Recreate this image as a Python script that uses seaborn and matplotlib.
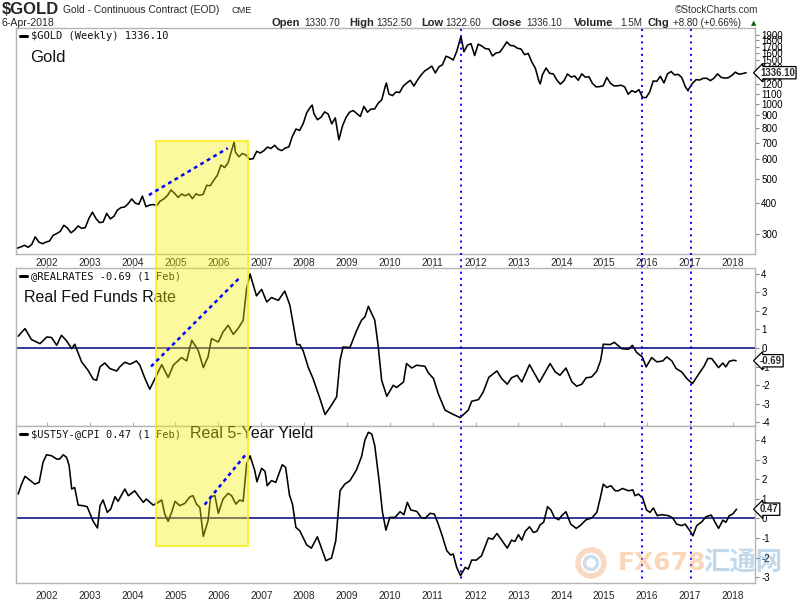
import numpy as np
import pandas as pd
import matplotlib
matplotlib.use("Agg")
import matplotlib.pyplot as plt
import matplotlib.transforms as mtransforms
from matplotlib.lines import Line2D
from matplotlib.patches import Rectangle, Circle
from matplotlib.ticker import NullLocator
import seaborn as sns

# ---------------- data ----------------
gold_start_year, gold_start_month = 2001, 4
gold_monthly = [
    264, 267, 271, 266, 273, 293, 279, 275, 279,                      # 2001 Apr-Dec
    282, 297, 302, 308, 326, 318, 304, 312, 324, 317, 319, 347,       # 2002
    368, 347, 334, 336, 364, 346, 354, 375, 384, 386, 398, 416,       # 2003
    400, 396, 427, 387, 393, 395, 391, 408, 416, 429, 452, 438,       # 2004
    422, 435, 428, 436, 417, 436, 430, 434, 472, 470, 495, 518,       # 2005
    569, 556, 582, 654, 643, 614, 633, 624, 600, 604, 646, 636,       # 2006
    650, 672, 663, 683, 659, 650, 666, 673, 743, 794, 783, 834,       # 2007
    923, 972, 916, 865, 885, 930, 912, 833, 880, 718, 816, 884,       # 2008
    928, 942, 916, 891, 979, 927, 955, 955, 1008, 1040, 1180, 1097,   # 2009
    1081, 1118, 1113, 1180, 1215, 1245, 1181, 1248, 1307, 1357, 1386, 1421,  # 2010
    1333, 1411, 1439, 1556, 1536, 1502, 1628, 1829, 1620, 1725, 1746, 1566,  # 2011
    1740, 1711, 1669, 1664, 1560, 1604, 1614, 1687, 1776, 1719, 1713, 1675,  # 2012
    1663, 1578, 1597, 1476, 1393, 1234, 1313, 1395, 1328, 1323, 1250, 1202,  # 2013
    1240, 1321, 1284, 1296, 1246, 1322, 1282, 1287, 1210, 1172, 1175, 1184,  # 2014
    1279, 1213, 1183, 1184, 1190, 1172, 1095, 1132, 1115, 1142, 1064, 1061,  # 2015
    1118, 1238, 1234, 1293, 1215, 1322, 1351, 1309, 1316, 1277, 1173, 1152,  # 2016
    1211, 1253, 1249, 1269, 1269, 1242, 1270, 1322, 1280, 1271, 1275, 1303,  # 2017
    1343, 1318, 1325, 1336,                                            # 2018 Jan-Apr
]
gold_extreme_t = [2006.37, 2008.19, 2009.92, 2011.66, 2013.51, 2016.96]
gold_extreme_v = [705, 990, 1215, 1870, 1205, 1130]

realrate_t = [2001.33, 2001.49, 2001.64, 2001.84, 2002.00, 2002.11, 2002.23, 2002.34, 2002.46, 2002.58,
              2002.65, 2002.81, 2002.96, 2003.08, 2003.16, 2003.24, 2003.35, 2003.47, 2003.63, 2003.70,
              2003.82, 2003.94, 2004.09, 2004.17, 2004.29, 2004.40, 2004.52, 2004.68, 2004.83, 2004.95,
              2005.14, 2005.26, 2005.38, 2005.53, 2005.65, 2005.76, 2005.84, 2006.00, 2006.11, 2006.23,
              2006.35, 2006.46, 2006.58, 2006.66, 2006.74, 2006.89, 2007.01, 2007.13, 2007.24, 2007.40,
              2007.55, 2007.67, 2007.83, 2007.90, 2007.98, 2008.10, 2008.21, 2008.37, 2008.49, 2008.64,
              2008.76, 2008.84, 2008.91, 2009.07, 2009.22, 2009.34, 2009.42, 2009.50, 2009.65, 2009.73,
              2009.81, 2009.93, 2010.08, 2010.16, 2010.32, 2010.39, 2010.51, 2010.63, 2010.82, 2010.90,
              2011.02, 2011.13, 2011.29, 2011.44, 2011.64, 2011.83, 2011.91, 2012.07, 2012.18, 2012.31,
              2012.50, 2012.61, 2012.74, 2012.84, 2012.97, 2013.08, 2013.26, 2013.49, 2013.74, 2013.86,
              2013.97, 2014.11, 2014.25, 2014.36, 2014.48, 2014.58, 2014.71, 2014.83, 2014.92, 2014.98,
              2015.14, 2015.24, 2015.41, 2015.57, 2015.66, 2015.76, 2015.89, 2015.98, 2016.11, 2016.23,
              2016.37, 2016.46, 2016.58, 2016.68, 2016.81, 2016.93, 2017.06, 2017.24, 2017.33, 2017.42,
              2017.51, 2017.67, 2017.77, 2017.84, 2017.92, 2018.02, 2018.08]
realrate_v = [0.63, 1.04, 0.45, 0.23, 0.59, 0.56, 0.14, 0.68, 0.38, -0.04,
              0.20, -0.75, -1.20, -1.68, -1.74, -1.02, -0.81, -1.11, -1.24, -1.02,
              -0.77, -0.88, -0.70, -0.93, -1.65, -2.22, -1.65, -0.90, -1.59, -0.93,
              -0.52, -0.70, 0.41, -0.13, -1.06, -0.48, 0.50, 0.32, 0.86, 1.22,
              0.73, 1.04, 1.49, 3.19, 3.98, 2.80, 3.15, 2.47, 2.71, 2.56,
              3.06, 2.29, 0.18, 0.18, -0.16, -1.06, -1.65, -2.72, -3.58, -3.08,
              -2.63, -0.66, 0.05, 0.02, 0.90, 1.49, 1.67, 2.24, 1.49, 0.09,
              -1.74, -2.60, -2.01, -2.13, -1.83, -0.84, -1.08, -0.93, -0.99, -1.34,
              -1.65, -2.46, -3.35, -3.53, -3.75, -3.35, -2.87, -2.78, -2.37, -1.58,
              -1.24, -1.65, -1.95, -1.61, -1.47, -1.83, -0.90, -1.85, -0.84, -1.29,
              -1.47, -1.08, -1.83, -2.06, -1.95, -1.61, -1.56, -1.24, -0.66, 0.20,
              0.18, 0.30, -0.04, -0.07, 0.14, -0.25, -0.48, -1.02, -0.52, -0.75,
              -0.70, -0.48, -0.70, -1.11, -1.29, -1.65, -1.92, -1.29, -0.99, -0.57,
              -0.57, -1.06, -0.81, -1.02, -0.72, -0.66, -0.69]

real5y_t = [2001.33, 2001.41, 2001.49, 2001.60, 2001.72, 2001.82, 2001.91, 2001.99, 2002.11, 2002.23,
            2002.30, 2002.38, 2002.46, 2002.52, 2002.58, 2002.65, 2002.73, 2002.84, 2002.94, 2003.08,
            2003.18, 2003.24, 2003.31, 2003.41, 2003.49, 2003.59, 2003.66, 2003.82, 2003.90, 2004.05,
            2004.13, 2004.25, 2004.32, 2004.48, 2004.56, 2004.68, 2004.75, 2004.83, 2004.91, 2004.99,
            2005.10, 2005.22, 2005.34, 2005.41, 2005.49, 2005.57, 2005.65, 2005.76, 2005.82, 2005.92,
            2006.00, 2006.11, 2006.23, 2006.31, 2006.41, 2006.50, 2006.58, 2006.66, 2006.74, 2006.85,
            2006.90, 2007.01, 2007.09, 2007.14, 2007.24, 2007.34, 2007.49, 2007.57, 2007.66, 2007.73,
            2007.81, 2007.90, 2008.06, 2008.17, 2008.31, 2008.40, 2008.51, 2008.64, 2008.74, 2008.84,
            2008.95, 2009.07, 2009.22, 2009.34, 2009.42, 2009.50, 2009.58, 2009.65, 2009.75, 2009.83,
            2009.91, 2010.00, 2010.12, 2010.24, 2010.33, 2010.41, 2010.49, 2010.63, 2010.73, 2010.82,
            2010.94, 2011.04, 2011.13, 2011.21, 2011.33, 2011.42, 2011.48, 2011.56, 2011.65, 2011.76,
            2011.83, 2011.91, 2012.02, 2012.14, 2012.30, 2012.40, 2012.50, 2012.62, 2012.74, 2012.84,
            2012.92, 2013.00, 2013.08, 2013.16, 2013.26, 2013.35, 2013.43, 2013.51, 2013.59, 2013.68,
            2013.76, 2013.84, 2013.94, 2014.01, 2014.11, 2014.22, 2014.35, 2014.44, 2014.58, 2014.71,
            2014.83, 2014.91, 2014.98, 2015.06, 2015.16, 2015.26, 2015.33, 2015.43, 2015.57, 2015.67,
            2015.72, 2015.80, 2015.90, 2015.99, 2016.07, 2016.15, 2016.24, 2016.34, 2016.50, 2016.60,
            2016.69, 2016.81, 2016.89, 2017.01, 2017.07, 2017.16, 2017.28, 2017.38, 2017.50, 2017.59,
            2017.67, 2017.77, 2017.84, 2017.92, 2018.00, 2018.09]
real5y_v = [1.24, 1.75, 2.15, 1.96, 1.75, 1.84, 2.86, 3.25, 3.20, 3.03,
            3.03, 3.25, 3.12, 2.69, 1.50, 1.58, 0.68, 0.65, 0.60, -0.15,
            -0.49, 0.65, 0.94, 0.31, 0.48, 1.11, 0.87, 1.50, 1.16, 1.41,
            1.16, 0.82, 0.99, 0.68, 0.77, 0.94, 0.22, -0.15, 0.31, 0.87,
            0.65, 0.77, 1.11, 1.16, 0.73, 0.56, -0.92, -0.12, 1.11, 1.16,
            0.26, 0.99, 1.28, 1.16, 0.73, 0.94, 0.87, 2.78, 3.20, 2.44,
            1.87, 2.56, 2.40, 1.67, 1.93, 1.84, 2.74, 2.61, 1.19, 0.73,
            -0.46, -0.63, -1.35, -1.52, -0.94, -1.48, -2.16, -2.03, -1.14, 1.41,
            1.75, 1.93, 2.47, 3.15, 4.00, 4.40, 4.31, 3.71, 1.93, 0.31,
            -0.60, 0.05, 0.05, 0.34, 0.19, 0.82, 0.43, 0.36, 0.05, 0.00,
            0.26, 0.22, -0.29, -0.80, -1.65, -1.87, -1.82, -2.50, -2.93, -2.50,
            -2.59, -2.13, -2.13, -1.91, -1.00, -1.06, -0.77, -1.14, -1.52, -1.11,
            -1.18, -0.83, -1.11, -0.66, -0.43, -0.72, -0.66, -0.32, -0.20, 0.60,
            0.43, 0.05, -0.07, 0.14, 0.34, -0.29, -0.51, -0.37, -0.07, 0.02,
            0.31, 1.04, 1.75, 1.58, 1.67, 1.41, 1.41, 1.53, 1.41, 1.46,
            1.16, 1.24, 1.04, 0.43, 0.31, 0.53, 0.14, 0.19, 0.14, 0.02,
            -0.29, -0.37, -0.29, -0.66, -0.89, -0.37, -0.17, 0.09, 0.17, -0.20,
            -0.51, -0.09, -0.20, 0.14, 0.22, 0.47]

# annotations (dates as fractional years, values in panel units)
gold_trend_t, gold_trend_v = [2004.38, 2006.22], [431, 665]
rr_trend_t, rr_trend_v = [2004.43, 2006.50], [-1.0, 3.78]
r5_trend_t, r5_trend_v = [2005.68, 2006.66], [0.70, 3.32]
highlight_span = (2004.54, 2006.69)
event_dates = [2011.66, 2015.89, 2017.03]
year_ticks = list(range(2002, 2019))
gold_ticks = list(range(300, 2000, 100))
rr_ticks = [-4, -3, -2, -1, 0, 1, 2, 3, 4]
r5_ticks = [-3, -2, -1, 0, 1, 2, 3, 4]
last_gold, last_rr, last_r5 = 1336.10, -0.69, 0.47

# ---------------- build frames ----------------
n = len(gold_monthly)
month_idx = gold_start_month - 1 + np.arange(n)
gold_t = gold_start_year + (month_idx + 0.75) / 12.0
gold_df = pd.DataFrame({"t": np.concatenate([gold_t, gold_extreme_t]),
                        "v": np.concatenate([gold_monthly, gold_extreme_v])}).sort_values("t")
rr_df = pd.DataFrame({"t": realrate_t, "v": realrate_v})
r5_df = pd.DataFrame({"t": real5y_t, "v": real5y_v})

# ---------------- style ----------------
sns.set_style("white")
plt.rcParams["font.family"] = ["Liberation Sans", "DejaVu Sans", "Noto Sans CJK SC"]
W, H = 800, 600
fig = plt.figure(figsize=(8, 6), dpi=100)
fig.patch.set_facecolor("white")

def fx(x):
    return x / W

def fy(y):
    return 1 - y / H

L, R = 16, 755
ax1 = fig.add_axes([fx(L), fy(254), (R - L) / W, (254 - 28) / H])
ax2 = fig.add_axes([fx(L), fy(426), (R - L) / W, (426 - 268) / H])
ax3 = fig.add_axes([fx(L), fy(583), (R - L) / W, (583 - 426) / H])

xlim = (2001.28, 2018.52)
spine_c = "#b4b4b4"

sns.lineplot(data=gold_df, x="t", y="v", ax=ax1, color="black", lw=1.15, estimator=None, sort=False)
sns.lineplot(data=rr_df, x="t", y="v", ax=ax2, color="black", lw=1.15, estimator=None, sort=False)
sns.lineplot(data=r5_df, x="t", y="v", ax=ax3, color="black", lw=1.15, estimator=None, sort=False)

ax1.set_yscale("log")
ax1.set_ylim(250, 2020)
ax2.set_ylim(-4.2, 4.3)
ax3.set_ylim(-3.3, 4.72)

for ax in (ax2, ax3):
    ax.axhline(0, color="#000080", lw=1.1, zorder=1)

for ax in (ax1, ax2, ax3):
    ax.set_xlim(*xlim)
    ax.set_xlabel("")
    ax.set_ylabel("")
    for s in ax.spines.values():
        s.set_color(spine_c)
        s.set_linewidth(1.0)
    ax.yaxis.tick_right()
    ax.tick_params(axis="y", which="major", direction="out", length=3, width=0.8,
                   color="#888888", labelsize=7, pad=1.5, labelcolor="black")
    ax.set_xticks(year_ticks)

ax1.set_yticks(gold_ticks)
ax1.set_yticklabels([str(v) for v in gold_ticks])
ax1.yaxis.set_minor_locator(NullLocator())
ax2.set_yticks(rr_ticks)
ax2.set_yticklabels([str(v) for v in rr_ticks])
ax3.set_yticks(r5_ticks)
ax3.set_yticklabels([str(v) for v in r5_ticks])

ax1.set_xticklabels([str(y) for y in year_ticks])
ax1.tick_params(axis="x", length=0, labelsize=7.3, pad=3)
ax2.tick_params(axis="x", bottom=False, top=True, labelbottom=False, length=3,
                color=spine_c, direction="out")
ax3.set_xticklabels([str(y) for y in year_ticks])
ax3.tick_params(axis="x", bottom=False, top=True, labelbottom=True, length=3,
                color=spine_c, direction="out", labelsize=7.3, pad=3)

# last-value boxes
narrow = ["Liberation Sans Narrow", "Liberation Sans", "DejaVu Sans"]
reg = ["Liberation Sans", "DejaVu Sans"]
box_kw = dict(boxstyle="larrow,pad=0.12", fc="white", ec="black", lw=0.9)
for ax, val, txt in ((ax1, last_gold, "1336.10"), (ax2, last_rr, "-0.69"), (ax3, last_r5, "0.47")):
    ax.text(1.0068, val, txt, transform=ax.get_yaxis_transform(), ha="left", va="center",
            fontsize=6.9, fontweight="bold", family=reg, bbox=box_kw, clip_on=False, zorder=10)

# panel legends and titles (axes children so the highlight overlays them)
mono = "DejaVu Sans Mono"
legend_items = [(ax1, 36, "$GOLD (Weekly) 1336.10"),
                (ax2, 276, "@REALRATES -0.69 (1 Feb)"),
                (ax3, 434, "$UST5Y-@CPI 0.47 (1 Feb)")]
for ax, ypx, txt in legend_items:
    ax.add_line(Line2D([fx(20), fx(27)], [fy(ypx), fy(ypx)], transform=fig.transFigure,
                       color="black", lw=2.2, clip_on=False))
    ax.text(fx(31), fy(ypx), txt, transform=fig.transFigure, family=mono, fontsize=7.5,
            va="center", ha="left", color="#111111", clip_on=False)

ax1.text(fx(30), fy(57), "Gold", transform=fig.transFigure, fontsize=12, va="center", color="#111111")
ax2.text(fx(24), fy(297), "Real Fed Funds Rate", transform=fig.transFigure, fontsize=11.5,
         va="center", color="#111111")
ax3.text(fx(190), fy(434), "Real 5-Year Yield", transform=fig.transFigure, fontsize=11.5,
         va="center", color="#111111", clip_on=False)

# yellow highlight spanning panels
blend = mtransforms.blended_transform_factory(ax1.transData, fig.transFigure)
x0, x1 = highlight_span
rect = Rectangle((x0, fy(546)), x1 - x0, fy(141) - fy(546), transform=blend,
                 facecolor=(0.97, 0.94, 0.0, 0.38), edgecolor=(0.97, 0.93, 0.1, 0.9), lw=1.3, zorder=4)
fig.add_artist(rect)

# vertical dotted event lines
for d in event_dates:
    fig.add_artist(Line2D([d, d], [fy(29), fy(582)], transform=blend, color="#0000ff",
                          lw=1.4, ls=(0, (1, 2.2)), zorder=6))

# blue dotted trend lines
for ax, tt, vv in ((ax1, gold_trend_t, gold_trend_v), (ax2, rr_trend_t, rr_trend_v),
                   (ax3, r5_trend_t, r5_trend_v)):
    fig.add_artist(Line2D(tt, vv, transform=ax.transData, color="#0000ff", lw=1.8,
                          ls=(0, (1.5, 1.5)), zorder=6))

# header
fig.text(fx(2), fy(10), "$GOLD", fontsize=12, fontweight="bold", family=narrow, va="center", ha="left")
fig.text(fx(63), fy(10), "Gold - Continuous Contract (EOD)", fontsize=7.4, family=reg, va="center")
fig.text(fx(232), fy(10.5), "CME", fontsize=6.6, family=reg, va="center")
fig.text(fx(2), fy(23), "6-Apr-2018", fontsize=7.6, family=reg, va="center")
fig.text(fx(758), fy(10), "\u00a9StockCharts.com", fontsize=7.2, family=reg, va="center",
         ha="right", color="#333333")
stats = [("Open", 271, True), ("1330.70", 304, False), ("High", 349, True), ("1352.50", 376, False),
         ("Low", 421, True), ("1322.60", 445, False), ("Close", 492, True), ("1336.10", 526, False),
         ("Volume", 574, True), ("1.5M", 620, False), ("Chg", 648, True), ("+8.80 (+0.66%)", 673, False)]
for txt, xp, bold in stats:
    fig.text(fx(xp), fy(23), txt, fontsize=8 if bold else 7.1, fontweight="bold" if bold else "normal",
             family=narrow if bold else reg, va="center", ha="left")
fig.text(fx(751), fy(23.5), "\u25b2", fontsize=5, color="#0b5d0b", va="center", ha="left",
         family=["DejaVu Sans"])

# watermark
fig.text(fx(618), fy(563), "FX678", fontsize=18, fontweight="bold", color="#f6a66a", alpha=0.45,
         va="center", ha="left", family=["DejaVu Sans"], zorder=20)
fig.text(fx(703), fy(563), "汇通网", fontsize=19, fontweight="bold", color="#5c9ccc", alpha=0.38,
         va="center", ha="left", family=["Noto Sans CJK SC", "DejaVu Sans"], zorder=20)
fig.add_artist(Circle((591 / 100, (600 - 563) / 100), 0.13, transform=fig.dpi_scale_trans,
                      fc="none", ec="#f3a06a", lw=4, alpha=0.4, zorder=20))
fig.add_artist(Circle((591 / 100, (600 - 563) / 100), 0.065, transform=fig.dpi_scale_trans,
                      fc="none", ec="#8ab6d8", lw=2.5, alpha=0.45, zorder=20))

fig.savefig("out.png", dpi=100, facecolor="white")
